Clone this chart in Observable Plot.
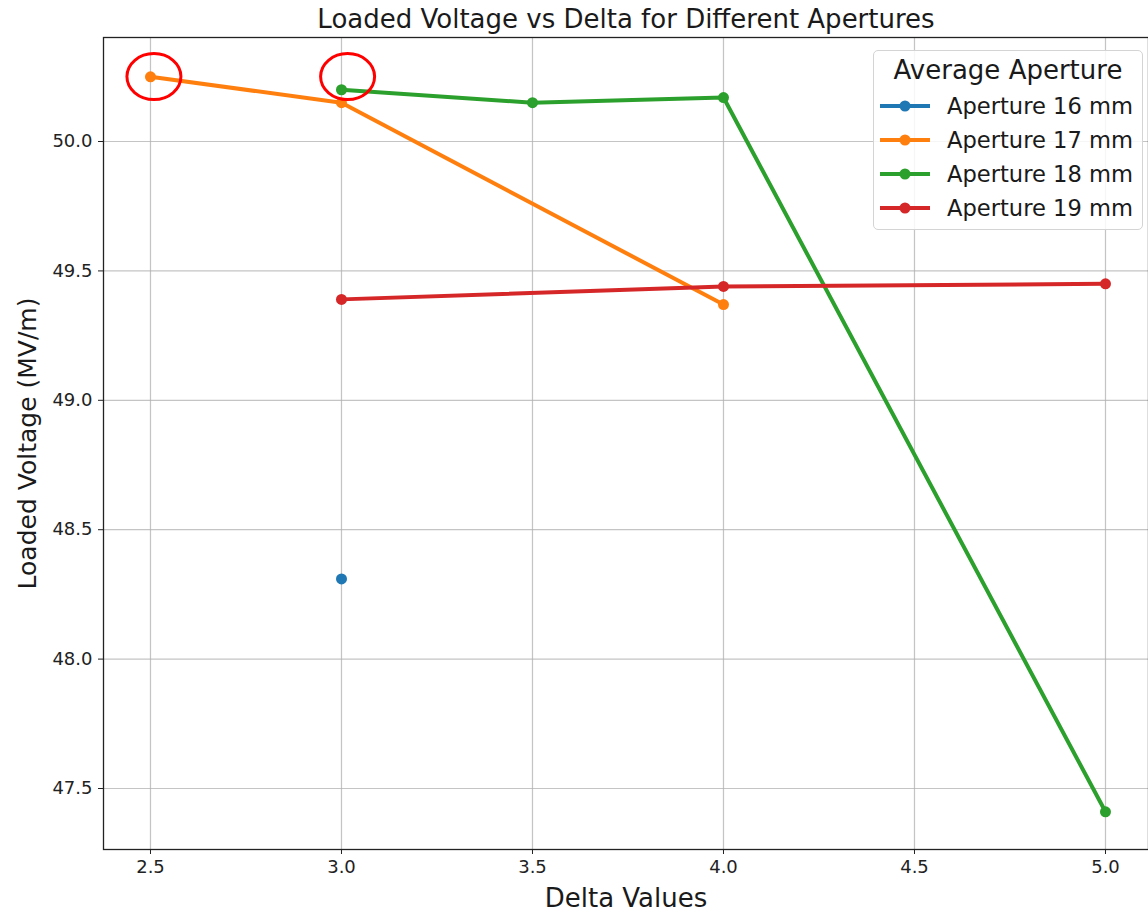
<!DOCTYPE html>
<html><head><meta charset="utf-8">
<script src="https://cdn.jsdelivr.net/npm/d3@7"></script>
<script src="https://cdn.jsdelivr.net/npm/@observablehq/plot@0.6"></script>
<style>
body{margin:0;background:#fff;font-family:"DejaVu Sans",sans-serif;}
#wrap{position:relative;width:1148px;height:914px;overflow:hidden;}
#legend{position:absolute;left:873px;top:50px;width:270px;height:180px;border:1.5px solid #d4d4d4;border-radius:5px;background:rgba(255,255,255,0.85);box-sizing:border-box;}
#legend .ttl{position:absolute;left:0;width:100%;top:4px;text-align:center;font-size:26px;color:#1a1a1a;}
#legend .row{position:absolute;left:5px;height:30px;display:flex;align-items:center;font-size:22.6px;color:#1a1a1a;}
#legend .row svg{margin-right:16px;}
</style></head><body><div id="wrap"></div>
<script>
const apertures = ["Aperture 16 mm", "Aperture 17 mm", "Aperture 18 mm", "Aperture 19 mm"];
const colors = ["#1f77b4", "#ff7f0e", "#2ca02c", "#d62728"];
const delta16 = [3.0];
const volt16 = [48.31];
const delta17 = [2.5, 3.0, 4.0];
const volt17 = [50.25, 50.15, 49.37];
const delta18 = [3.0, 3.5, 4.0, 5.0];
const volt18 = [50.20, 50.15, 50.17, 47.41];
const delta19 = [3.0, 4.0, 5.0];
const volt19 = [49.39, 49.44, 49.45];
const xTicks = [2.5, 3.0, 3.5, 4.0, 4.5, 5.0];
const yTicks = [47.5, 48.0, 48.5, 49.0, 49.5, 50.0];
const highlightDelta = [2.509, 3.016];
const highlightVolt = [50.251, 50.251];
const titleText = "Loaded Voltage vs Delta for Different Apertures";
const xLabel = "Delta Values";
const yLabel = "Loaded Voltage (MV/m)";
const legendTitle = "Average Aperture";

const seriesX = [delta16, delta17, delta18, delta19];
const seriesY = [volt16, volt17, volt18, volt19];
const series = apertures.map((name, i) => seriesX[i].map((d, j) => ({aperture: name, delta: d, volt: seriesY[i][j]})));
const highlights = highlightDelta.map((d, i) => ({delta: d, volt: highlightVolt[i]}));

const ellipseSymbol = {
  draw(ctx, size) {
    const r = Math.sqrt(size / Math.PI);
    const rx = r, ry = r * 23 / 27, k = 0.5523;
    ctx.moveTo(rx, 0);
    ctx.bezierCurveTo(rx, ry * k, rx * k, ry, 0, ry);
    ctx.bezierCurveTo(-rx * k, ry, -rx, ry * k, -rx, 0);
    ctx.bezierCurveTo(-rx, -ry * k, -rx * k, -ry, 0, -ry);
    ctx.bezierCurveTo(rx * k, -ry, rx, -ry * k, rx, 0);
    ctx.closePath();
  }
};

const marks = [
  Plot.gridX(xTicks, {stroke: "#b0b0b0", strokeOpacity: 0.75, strokeWidth: 1.2}),
  Plot.gridY(yTicks, {stroke: "#b0b0b0", strokeOpacity: 0.75, strokeWidth: 1.2}),
];
series.forEach((s, i) => {
  marks.push(Plot.line(s, {x: "delta", y: "volt", stroke: colors[i], strokeWidth: 4}));
  marks.push(Plot.dot(s, {x: "delta", y: "volt", fill: colors[i], r: 5.5}));
});
marks.push(
  Plot.dot(highlights, {x: "delta", y: "volt", symbol: ellipseSymbol, r: 27, stroke: "#ff0000", strokeWidth: 3, fill: "none"}),
  Plot.frame({stroke: "#222", strokeWidth: 1.3}),
  Plot.axisX(xTicks, {tickFormat: d => d.toFixed(1), tickSize: 5, tickPadding: 6, fontSize: 18, label: null, color: "#222"}),
  Plot.axisY(yTicks, {tickFormat: d => d.toFixed(1), tickSize: 5, tickPadding: 6, fontSize: 18, label: null, color: "#222"}),
  Plot.text([titleText], {frameAnchor: "top", dy: -18, lineAnchor: "middle", fontSize: 26, fill: "#1a1a1a"}),
  Plot.text([xLabel], {frameAnchor: "bottom", dy: 49, lineAnchor: "middle", fontSize: 26, fill: "#1a1a1a"}),
  Plot.text([yLabel], {frameAnchor: "left", dx: -76, rotate: -90, textAnchor: "middle", lineAnchor: "middle", fontSize: 25, fill: "#1a1a1a"})
);

const chart = Plot.plot({
  width: 1148,
  height: 914,
  marginLeft: 103,
  marginRight: 0,
  marginTop: 37,
  marginBottom: 65,
  style: {fontFamily: "DejaVu Sans", background: "#fff", color: "#222"},
  x: {domain: [2.377, 5.1126]},
  y: {domain: [47.2643, 50.4019]},
  marks
});
const wrap = document.getElementById("wrap");
wrap.appendChild(chart);

const legend = document.createElement("div");
legend.id = "legend";
legend.innerHTML = `<div class="ttl">${legendTitle}</div>` + apertures.map((a, i) =>
  `<div class="row" style="top:${40 + i * 34}px"><svg width="52" height="14"><line x1="1" y1="7" x2="51" y2="7" stroke="${colors[i]}" stroke-width="4"/><circle cx="26" cy="7" r="5.5" fill="${colors[i]}"/></svg>${a}</div>`
).join("");
wrap.appendChild(legend);
</script>
</body></html>
